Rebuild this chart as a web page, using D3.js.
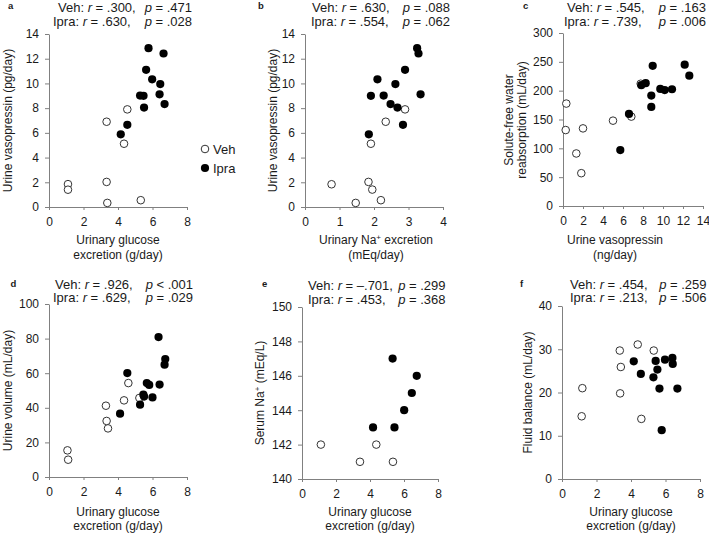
<!DOCTYPE html>
<html><head><meta charset="utf-8">
<script src="https://cdn.jsdelivr.net/npm/d3@7"></script>
<style>
html,body{margin:0;padding:0;background:#fff;}
svg{display:block;font-family:Arial,"Liberation Sans",Helvetica,sans-serif;}
</style></head>
<body>
<div id="chart"></div>
<script>
// ---------- DATA ----------
const panelLetters = ["a","b","c","d","e","f"];
const seriesNames = ["Veh","Ipra"];

// a: urinary glucose vs urine vasopressin
const aVehX  = [1.10, 1.10, 3.34, 3.38, 3.34, 4.54, 4.35, 5.32];
const aVehY  = [1.85, 1.40, 2.03, 0.33, 6.90, 7.90, 5.12, 0.55];
const aIpraX = [5.77, 6.64, 5.63, 5.98, 6.45, 5.28, 5.48, 6.41, 5.51, 6.70, 4.54, 4.16];
const aIpraY = [12.85, 12.42, 11.10, 10.33, 9.95, 9.02, 9.00, 9.12, 8.05, 8.33, 6.65, 5.88];

// b: urinary Na+ vs urine vasopressin
const bVehX  = [0.77, 1.84, 1.95, 1.47, 2.20, 1.91, 2.34, 2.90];
const bVehY  = [1.84, 2.03, 1.41, 0.33, 0.55, 5.12, 6.90, 7.90];
const bIpraX = [3.25, 3.29, 2.90, 2.10, 2.62, 1.91, 2.28, 3.35, 2.48, 2.68, 2.84, 1.85];
const bIpraY = [12.85, 12.42, 11.10, 10.33, 9.95, 9.00, 9.02, 9.12, 8.33, 8.05, 6.65, 5.88];

// c: urine vasopressin vs solute-free water reabsorption
const cVehX  = [0.33, 0.27, 1.33, 1.83, 2.00, 5.00, 6.83, 7.77];
const cVehY  = [177.6, 131.7, 91.1, 56.9, 134.6, 148, 155, 212];
const cIpraX = [12.17, 12.63, 8.97, 7.83, 8.27, 8.83, 8.83, 9.73, 10.17, 10.90, 6.60, 5.73];
const cIpraY = [245, 226, 243, 209.5, 213, 191.5, 171.8, 203, 201, 202.5, 159.6, 96.9];

// d: urinary glucose vs urine volume
const dVehX  = [1.07, 1.11, 3.30, 3.34, 3.42, 4.35, 4.60, 5.24];
const dVehY  = [15.4, 10.0, 41.2, 32.4, 28.1, 44.3, 54.3, 45.7];
const dIpraX = [6.35, 6.74, 6.70, 4.54, 5.67, 5.81, 6.41, 5.47, 6.00, 5.28, 4.12, 5.51];
const dIpraY = [80.9, 68.2, 64.9, 60.1, 54.3, 53.2, 53.4, 47.6, 46.0, 41.8, 36.6, 46.5];

// e: urinary glucose vs serum Na+
const eVehX  = [1.11, 3.41, 4.37, 5.35];
const eVehY  = [142, 141, 142, 141];
const eIpraX = [5.33, 6.75, 6.46, 6.01, 4.18, 5.44];
const eIpraY = [147, 146, 145, 144, 143, 143];

// f: urinary glucose vs fluid balance
const fVehX  = [1.18, 1.14, 3.35, 3.41, 3.37, 4.39, 5.32, 4.60];
const fVehY  = [21.0, 14.5, 29.7, 25.9, 19.8, 31.1, 29.7, 13.9];
const fIpraX = [4.16, 4.57, 5.43, 5.53, 5.30, 5.65, 5.97, 6.40, 6.42, 6.69, 5.78];
const fIpraY = [27.2, 24.3, 27.3, 25.3, 23.5, 20.9, 27.6, 28.0, 26.6, 20.9, 11.3];

// statistics text
const vehR  = [".300", ".630", ".545", ".926", "\u2013.701", ".454"];
const vehP  = ["= .471", "= .088", "= .163", "< .001", "= .299", "= .259"];
const ipraR = [".630", ".554", ".739", ".629", ".453", ".213"];
const ipraP = ["= .028", "= .062", "= .006", "= .029", "= .368", "= .506"];

// axis ticks
const glucoseTicks = [0, 2, 4, 6, 8];
const naTicks = [0, 1, 2, 3, 4];
const avpTicks = [0, 2, 4, 6, 8, 10, 12, 14];
const sfwTicks = [0, 50, 100, 150, 200, 250, 300];
const volTicks = [0, 20, 40, 60, 80, 100];
const serumTicks = [140, 142, 144, 146, 148, 150];
const fluidTicks = [0, 10, 20, 30, 40];

// ---------- LAYOUT ----------
const W = 709, H = 534;
const svg = d3.select("#chart").append("svg").attr("width", W).attr("height", H);
const AX = "#808080", TXT = "#1a1a1a";

const panels = [
  {vx:aVehX, vy:aVehY, ix:aIpraX, iy:aIpraY, xd:[0,8], yd:[0,14], xt:glucoseTicks, yt:avpTicks,
   xr:[49,187], yr:[207,34], letter:[8,9], st:{s:[58,53], end:192, b:[12,25.5]},
   yl:{x:[11.5], y:120.5, lines:[["Urine vasopressin (pg/day)"]]},
   xl:{x:118, y:[244,258.5], lines:[["Urinary glucose"],["excretion (g/day)"]]}},
  {vx:bVehX, vy:bVehY, ix:bIpraX, iy:bIpraY, xd:[0,4], yd:[0,14], xt:naTicks, yt:avpTicks,
   xr:[305,443], yr:[207,34], letter:[258,9], st:{s:[312,311], end:450, b:[12,25.5]},
   yl:{x:[277], y:120.5, lines:[["Urine vasopressin (pg/day)"]]},
   xl:{x:376, y:[244,258.5], lines:[["Urinary Na","+"," excretion"],["(mEq/day)"]]}},
  {vx:cVehX, vy:cVehY, ix:cIpraX, iy:cIpraY, xd:[0,14], yd:[0,300], xt:avpTicks, yt:sfwTicks,
   xr:[563,703], yr:[206,33], letter:[523,8.5], st:{s:[567,564], end:706, b:[12,25.5]},
   yl:{x:[513,526], y:120, lines:[["Solute-free water"],["reabsorption (mL/day)"]]},
   xl:{x:615, y:[244,258.5], lines:[["Urine vasopressin"],["(ng/day)"]]}},
  {vx:dVehX, vy:dVehY, ix:dIpraX, iy:dIpraY, xd:[0,8], yd:[0,100], xt:glucoseTicks, yt:volTicks,
   xr:[49,187], yr:[477,304], letter:[10.5,287], st:{s:[55,53], end:193, b:[288.5,302]},
   yl:{x:[11.5], y:390.5, lines:[["Urine volume (mL/day)"]]},
   xl:{x:118, y:[516,529.5], lines:[["Urinary glucose"],["excretion (g/day)"]]}},
  {vx:eVehX, vy:eVehY, ix:eIpraX, iy:eIpraY, xd:[0,8], yd:[140,150], xt:glucoseTicks, yt:serumTicks,
   xr:[302,438], yr:[479,307], letter:[262,287], st:{s:[308,308], end:445.5, b:[290,303.5]},
   yl:{x:[264], y:393, lines:[["Serum Na","+"," (mEq/L)"]]},
   xl:{x:370, y:[516,529.5], lines:[["Urinary glucose"],["excretion (g/day)"]]}},
  {vx:fVehX, vy:fVehY, ix:fIpraX, iy:fIpraY, xd:[0,8], yd:[0,40], xt:glucoseTicks, yt:fluidTicks,
   xr:[562,700], yr:[479,306], letter:[520,287], st:{s:[570,570], end:706.5, b:[288.5,302]},
   yl:{x:[532], y:392.5, lines:[["Fluid balance (mL/day)"]]},
   xl:{x:631, y:[516,529.5], lines:[["Urinary glucose"],["excretion (g/day)"]]}}
];

function addParts(textSel, parts) {
  // parts: [normal, superscript, normal, ...]
  parts.forEach((p, i) => {
    const t = textSel.append("tspan").text(p);
    if (i % 2 === 1) t.attr("font-size", "8px").attr("baseline-shift", "super");
  });
}

panels.forEach((P, k) => {
  const x = d3.scaleLinear().domain(P.xd).range(P.xr);
  const y = d3.scaleLinear().domain(P.yd).range(P.yr);
  const g = svg.append("g");
  const fmt = d3.format("d");

  const xa = g.append("g").attr("transform", `translate(0,${P.yr[0]})`)
    .call(d3.axisBottom(x).tickValues(P.xt).tickFormat(fmt).tickSize(3).tickPadding(7).tickSizeOuter(0));
  const ya = g.append("g").attr("transform", `translate(${P.xr[0]},0)`)
    .call(d3.axisLeft(y).tickValues(P.yt).tickFormat(fmt).tickSize(4).tickPadding(6).tickSizeOuter(0));
  [xa, ya].forEach(a => {
    a.select(".domain").attr("stroke", AX).attr("stroke-width", 1);
    a.selectAll(".tick line").attr("stroke", AX);
    a.selectAll(".tick text").attr("fill", TXT).attr("font-size", "12px")
      .attr("font-family", "Arial, 'Liberation Sans', sans-serif");
  });

  // points: Veh open first, Ipra filled on top
  g.selectAll(".veh").data(d3.zip(P.vx, P.vy)).join("circle")
    .attr("cx", d => x(d[0])).attr("cy", d => y(d[1])).attr("r", 3.8)
    .attr("fill", "#fff").attr("stroke", "#333").attr("stroke-width", 1);
  g.selectAll(".ipra").data(d3.zip(P.ix, P.iy)).join("circle")
    .attr("cx", d => x(d[0])).attr("cy", d => y(d[1])).attr("r", 4.1)
    .attr("fill", "#000");

  // panel letter
  g.append("text").attr("x", P.letter[0]).attr("y", P.letter[1]).text(panelLetters[k])
    .attr("font-size", "9.5px").attr("font-weight", "bold").attr("fill", TXT);

  // stats text
  const rows = [[seriesNames[0], vehR[k], vehP[k]], [seriesNames[1], ipraR[k], ipraP[k]]];
  rows.forEach((r, i) => {
    const t1 = g.append("text").attr("x", P.st.s[i]).attr("y", P.st.b[i])
      .attr("font-size", "13px").attr("fill", TXT);
    t1.append("tspan").text(r[0] + ": ");
    t1.append("tspan").text("r").attr("font-style", "italic");
    t1.append("tspan").text(" = " + r[1] + ",");
    const t2 = g.append("text").attr("x", P.st.end).attr("y", P.st.b[i])
      .attr("text-anchor", "end").attr("font-size", "13px").attr("fill", TXT);
    t2.append("tspan").text("p").attr("font-style", "italic");
    t2.append("tspan").text(" " + r[2]);
  });

  // y label
  P.yl.lines.forEach((parts, i) => {
    const t = g.append("text").attr("transform", `translate(${P.yl.x[i]},${P.yl.y}) rotate(-90)`)
      .attr("text-anchor", "middle").attr("font-size", "12px").attr("fill", TXT);
    addParts(t, parts);
  });
  // x label
  P.xl.lines.forEach((parts, i) => {
    const t = g.append("text").attr("x", P.xl.x).attr("y", P.xl.y[i])
      .attr("text-anchor", "middle").attr("font-size", "12px").attr("fill", TXT);
    addParts(t, parts);
  });
});

// legend (panel a)
const legend = svg.append("g");
seriesNames.forEach((s, i) => {
  const cy = 149 + i * 19;
  legend.append("circle").attr("cx", 205).attr("cy", cy).attr("r", i === 0 ? 3.8 : 4.1)
    .attr("fill", i === 0 ? "#fff" : "#000").attr("stroke", i === 0 ? "#333" : "none")
    .attr("stroke-width", 1);
  legend.append("text").attr("x", 213).attr("y", cy + 4.5).text(s)
    .attr("font-size", "13px").attr("fill", TXT);
});
</script>
</body></html>
